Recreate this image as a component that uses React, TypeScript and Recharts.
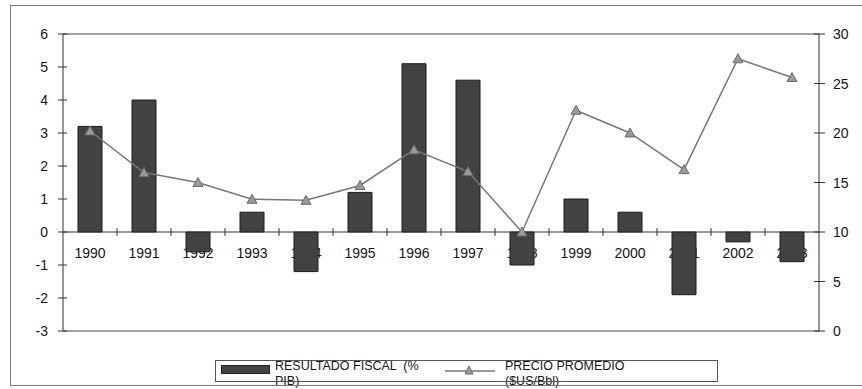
import React from 'react';
import { ComposedChart, Bar, Line, XAxis, YAxis, ReferenceLine } from 'recharts';

const years = ['1990', '1991', '1992', '1993', '1994', '1995', '1996', '1997', '1998', '1999', '2000', '2001', '2002', '2003'];
const resultadoFiscal = [3.2, 4.0, -0.6, 0.6, -1.2, 1.2, 5.1, 4.6, -1.0, 1.0, 0.6, -1.9, -0.3, -0.9];
const precioPromedio = [20.2, 16.0, 15.0, 13.3, 13.2, 14.7, 18.3, 16.1, 10.0, 22.3, 20.0, 16.3, 27.5, 25.6];
const leftTicks = [-3, -2, -1, 0, 1, 2, 3, 4, 5, 6];
const rightTicks = [0, 5, 10, 15, 20, 25, 30];

const data = years.map((year, i) => ({
  year,
  base: 0,
  fiscal: resultadoFiscal[i],
  precio: precioPromedio[i],
}));

const W = 862;
const H = 389;
const margin = { top: 34, right: 10, bottom: 57, left: 13 };
const X_AXIS_H = 1;
const LEFT_W = 50;
const RIGHT_W = 33;
const plotW = W - margin.left - margin.right - LEFT_W - RIGHT_W;
const plotH = H - margin.top - margin.bottom - X_AXIS_H;
const leftMin = leftTicks[0];
const leftMax = leftTicks[leftTicks.length - 1];
// y of the zero line, where the category labels sit
const zeroY = margin.top + (plotH * leftMax) / (leftMax - leftMin);
const band = plotW / years.length;
const leftAxisX = margin.left + LEFT_W;
const rightAxisX = W - margin.right - RIGHT_W;

const font = '"Liberation Sans", Arial, sans-serif';
const ink = '#141414';

// zero-height bar drawn first, so the year labels end up underneath the real bars
const YearLabel = (props: any) => {
  const { x, width, index, payload } = props;
  const cx = x + width / 2;
  const last = index === years.length - 1;
  return (
    <g>
      {!last && (
        <line x1={cx + band / 2} x2={cx + band / 2} y1={zeroY - 4} y2={zeroY + 4} stroke="#333" strokeWidth={1} />
      )}
      <text x={cx} y={zeroY + 26} textAnchor="middle" fontFamily={font} fontSize={14} fill={ink}>
        {payload.year}
      </text>
    </g>
  );
};

// axis ticks cross the axis line, labels outside
const LeftTick = (props: any) => {
  const { y, payload } = props;
  return (
    <g>
      <line x1={leftAxisX - 5} x2={leftAxisX + 4} y1={y} y2={y} stroke="#333" />
      <text x={leftAxisX - 15} y={y + 5} textAnchor="end" fontFamily={font} fontSize={14} fill={ink}>
        {payload.value}
      </text>
    </g>
  );
};

const RightTick = (props: any) => {
  const { y, payload } = props;
  return (
    <g>
      <line x1={rightAxisX - 5} x2={rightAxisX + 6} y1={y} y2={y} stroke="#333" />
      <text x={rightAxisX + 14} y={y + 5} textAnchor="start" fontFamily={font} fontSize={14} fill={ink}>
        {payload.value}
      </text>
    </g>
  );
};

const Triangle = (props: any) => {
  const { cx, cy } = props;
  if (cx == null || cy == null) return null;
  const s = 5;
  return (
    <path
      d={`M${cx},${cy - s} L${cx + s},${cy + s * 0.8} L${cx - s},${cy + s * 0.8} Z`}
      fill="#9a9a9a"
      stroke="#6a6a6a"
      strokeWidth={1}
    />
  );
};

const legendText: React.CSSProperties = { position: 'absolute', whiteSpace: 'nowrap' };

const LegendBox = () => (
  <div
    style={{
      position: 'absolute',
      left: 215,
      top: 360,
      width: 503,
      height: 22,
      fontFamily: font,
      fontSize: 12.5,
      color: ink,
      lineHeight: '13px',
    }}
  >
    <div style={{ position: 'absolute', left: 6, top: 5, width: 47, height: 7, background: '#444', border: '1px solid #222' }} />
    <div style={{ ...legendText, left: 60, top: 0 }}>RESULTADO FISCAL &nbsp;(%</div>
    <div style={{ ...legendText, left: 60, top: 15 }}>PIB)</div>
    <svg style={{ position: 'absolute', left: 230, top: 2 }} width={52} height={16}>
      <line x1={0} x2={50} y1={9} y2={9} stroke="#777" strokeWidth={1.5} />
      <path d="M24,4 L28,12 L20,12 Z" fill="#9a9a9a" stroke="#6a6a6a" />
    </svg>
    <div style={{ ...legendText, left: 290, top: 0 }}>PRECIO PROMEDIO</div>
    <div style={{ ...legendText, left: 290, top: 15 }}>($US/Bbl)</div>
    <div style={{ position: 'absolute', inset: 0, border: '1px solid #555' }} />
  </div>
);

export default function App() {
  return (
    <div style={{ position: 'absolute', left: 0, top: 0, width: W, height: H, background: '#fff', overflow: 'hidden' }}>
      <ComposedChart width={W} height={H} data={data} margin={margin} barCategoryGap={0}>
        <XAxis dataKey="year" height={X_AXIS_H} axisLine={false} tickLine={false} tick={false} interval={0} />
        <YAxis
          yAxisId="left"
          width={LEFT_W}
          domain={[leftMin, leftMax]}
          ticks={leftTicks}
          interval={0}
          stroke="#333"
          tickLine={false}
          tick={<LeftTick />}
        />
        <YAxis
          yAxisId="right"
          orientation="right"
          width={RIGHT_W}
          domain={[0, 30]}
          ticks={rightTicks}
          interval={0}
          stroke="#333"
          tickLine={false}
          tick={<RightTick />}
        />
        <ReferenceLine yAxisId="left" y={leftMax} stroke="#444" strokeWidth={1} />
        <ReferenceLine yAxisId="left" y={leftMin} stroke="#444" strokeWidth={1} />
        <ReferenceLine yAxisId="left" y={0} stroke="#333" strokeWidth={1.2} />
        <Bar yAxisId="left" dataKey="base" stackId="f" barSize={24} shape={<YearLabel />} isAnimationActive={false} />
        <Bar yAxisId="left" dataKey="fiscal" stackId="f" barSize={24} fill="#424242" stroke="#1c1c1c" strokeWidth={1} isAnimationActive={false} />
        <Line
          yAxisId="right"
          dataKey="precio"
          type="linear"
          stroke="#777"
          strokeWidth={1.5}
          dot={<Triangle />}
          activeDot={false}
          isAnimationActive={false}
        />
      </ComposedChart>
      <LegendBox />
      <div
        style={{
          position: 'absolute',
          left: 10,
          top: 5,
          width: W,
          height: 381,
          border: '1px solid #777',
          boxSizing: 'border-box',
          pointerEvents: 'none',
        }}
      />
    </div>
  );
}
